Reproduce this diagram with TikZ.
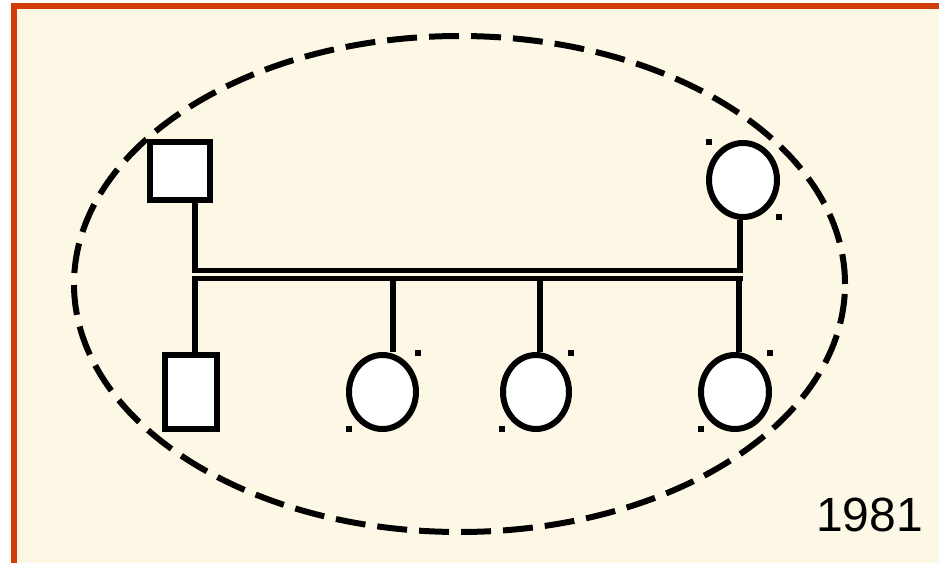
\documentclass[tikz,border=0pt]{standalone}
\usepackage{fontspec}
\setmainfont{Liberation Sans}
\usetikzlibrary{shapes.geometric}
\definecolor{cream}{HTML}{FDF8E5}
\definecolor{frame}{HTML}{D13C0C}
\tikzset{
  male/.style={draw=black, fill=white, line width=6pt, rectangle, inner sep=0pt},
  female/.style={draw=black, fill=white, line width=6pt, ellipse, inner sep=0pt},
  link/.style={draw=black, line width=5.5pt},
  dotmark/.style={fill=black, rectangle, minimum width=5.5pt, minimum height=5.5pt, inner sep=0pt},
}
\begin{document}
\begin{tikzpicture}[x=1pt, y=-1pt]
\useasboundingbox (0,0) rectangle (939,562);
\clip (0,0) rectangle (939,562);
\fill[white] (0,0) rectangle (939,562);
\draw[frame, fill=cream, line width=5.5pt] (14.2,5.8) rectangle (1000,620);

% people
\node[male, minimum width=60pt, minimum height=58pt] (f) at (180,171) {};
\node[female, minimum width=68pt, minimum height=74pt] (m) at (743,180) {};
\node[male, minimum width=52pt, minimum height=74pt] (s1) at (191,392) {};
\node[female, minimum width=67pt, minimum height=74pt] (d1) at (382.5,392) {};
\node[female, minimum width=66pt, minimum height=74pt] (d2) at (536,392) {};
\node[female, minimum width=68pt, minimum height=74pt] (d3) at (735,392) {};

% junctions
\coordinate (jf) at (195,270.5);
\coordinate (jm) at (740,270.5);
\coordinate (c1) at (195,278.5);
\coordinate (c2) at (393,278.5);
\coordinate (c3) at (540,278.5);
\coordinate (c4) at (739,278.5);
\coordinate (mL) at (192,274.5);
\coordinate (mR) at (743,274.5);

\draw[link] (jf |- f.south) -- (jf);
\draw[link] (jm |- m.south) -- (jm);
\draw[link] (c1) -- (c1 |- s1.north);
\draw[link] (c2) -- (c2 |- d1.north);
\draw[link] (c3) -- (c3 |- d2.north);
\draw[link] (c4) -- (c4 |- d3.north);

% marriage double line
\draw[line width=5.5pt, double=cream, double distance=2.5pt] (mL) -- (mR);

% small marks
\node[dotmark] (mk1) at (709,142) {};
\node[dotmark] (mk2) at (779,217) {};
\node[dotmark] (mk3) at (418,353) {};
\node[dotmark] (mk4) at (349,429) {};
\node[dotmark] (mk5) at (571,353) {};
\node[dotmark] (mk6) at (502,429) {};
\node[dotmark] (mk7) at (770,353) {};
\node[dotmark] (mk8) at (701,429) {};

% dashed household ellipse
\draw[line width=6pt, dash pattern=on 30pt off 12pt] (459.5,284) ellipse [x radius=385.5pt, y radius=248pt];

\node[font=\fontsize{48}{48}\selectfont, inner sep=0pt] (yr) at (869.5,514.5) {1981};
\end{tikzpicture}
\end{document}
